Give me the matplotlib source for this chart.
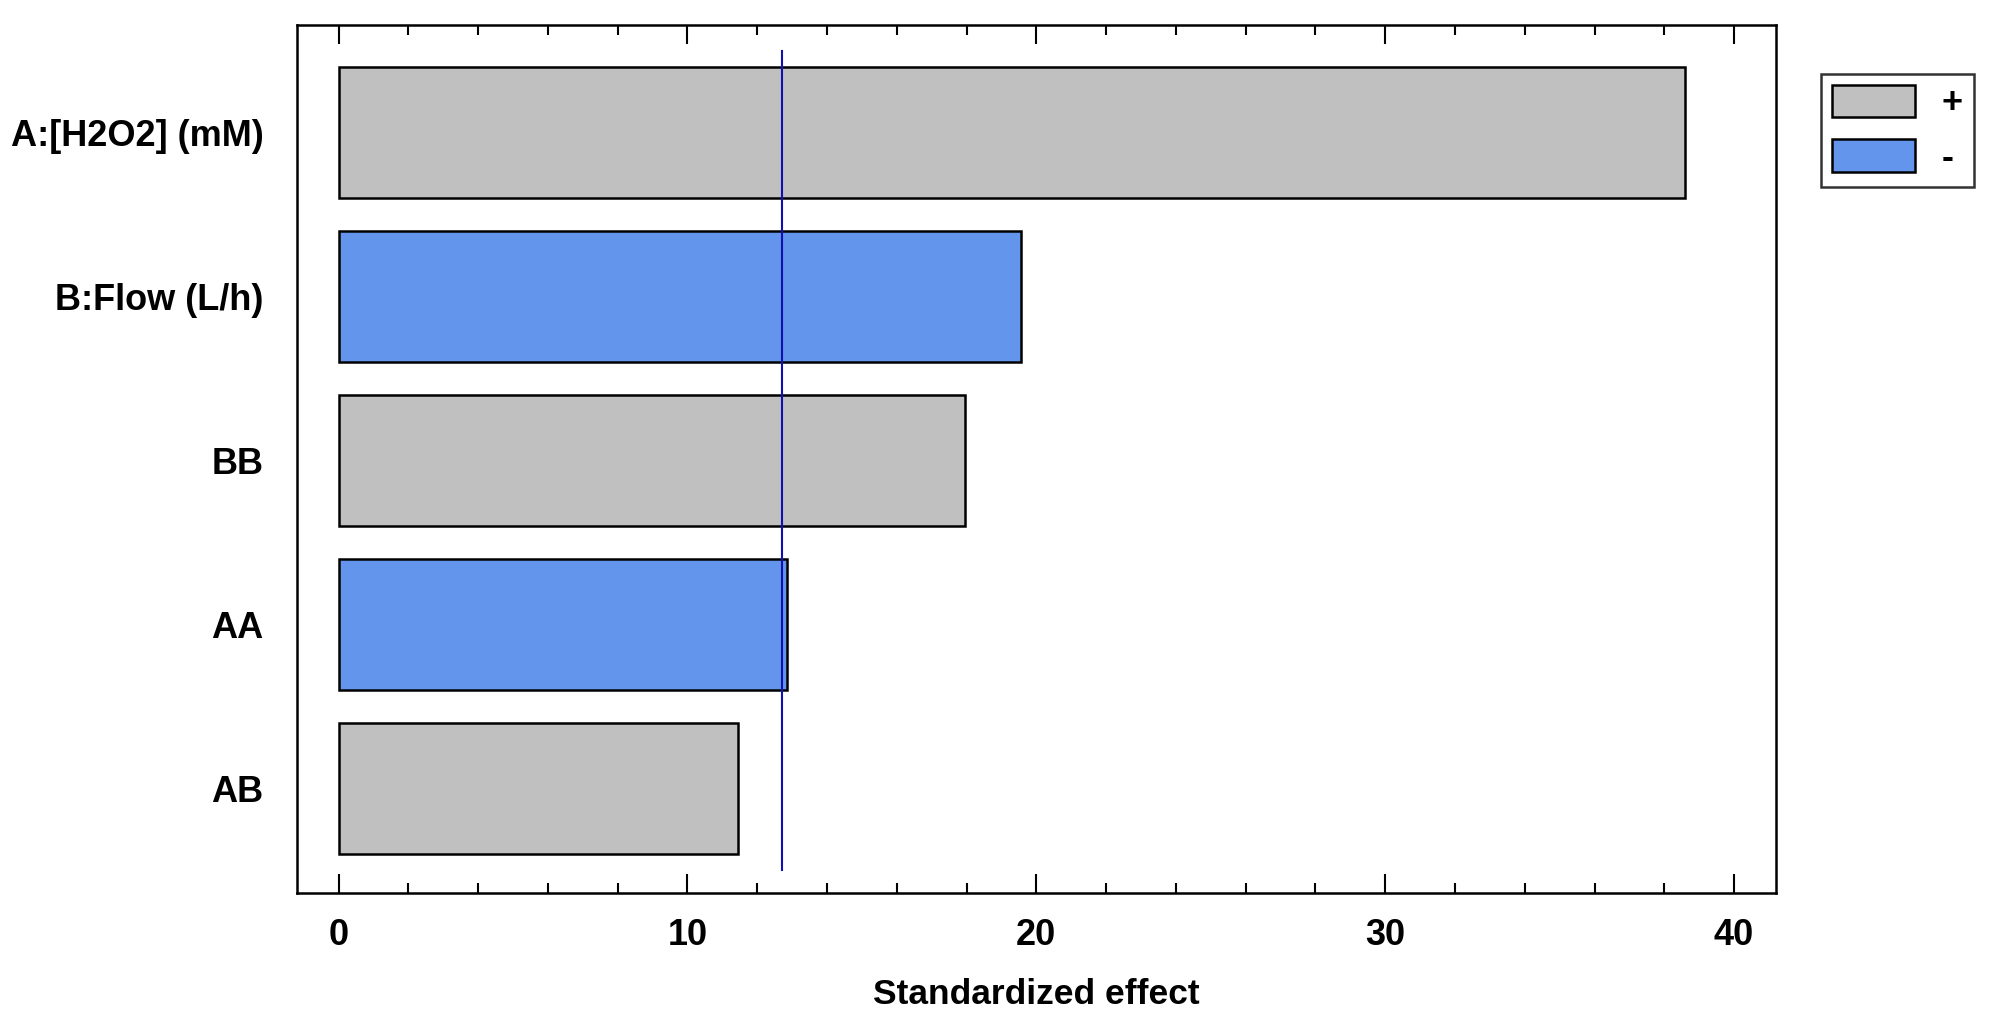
import numpy as np
import matplotlib
matplotlib.use("Agg")
import matplotlib.pyplot as plt
from matplotlib.patches import Patch
from matplotlib.ticker import MultipleLocator

# data
factors = ["A:[H2O2] (mM)", "B:Flow (L/h)", "BB", "AA", "AB"]
effects = [38.6, 19.55, 17.95, 12.85, 11.45]
signs = ["+", "-", "+", "-", "+"]
critical = 12.7

plt.rcParams['font.family'] = ['Liberation Sans', 'DejaVu Sans']
plt.rcParams['font.weight'] = 'bold'

colors = {"+": "#c0c0c0", "-": "#6495ed"}

fig = plt.figure(figsize=(19.91, 10.29), dpi=100)
ax = fig.add_axes([0.149, 0.132, 0.743, 0.844])

ypos = np.arange(len(factors))
ax.barh(ypos, effects, height=0.8, color=[colors[s] for s in signs],
        edgecolor="black", linewidth=1.8, zorder=2)
ax.plot([critical, critical], [-0.5, 4.5], color="#1010b0", linewidth=1.5, zorder=3)

ax.set_xlim(-1.2, 41.2)
ax.set_ylim(4.64, -0.66)
ax.set_yticks(ypos)
ax.set_yticklabels(factors, fontsize=26, fontweight='bold')
ax.tick_params(axis='y', length=0, pad=24)

ax.xaxis.set_major_locator(MultipleLocator(10))
ax.xaxis.set_minor_locator(MultipleLocator(2))
ax.tick_params(axis='x', which='major', direction='in', length=14, width=1.5,
               top=True, labelsize=26, pad=18)
ax.tick_params(axis='x', which='minor', direction='in', length=7, width=1.5, top=True)
for lab in ax.get_xticklabels():
    lab.set_fontweight('bold')
ax.set_xlabel("Standardized effect", fontsize=25.5, fontweight='bold', labelpad=18)

for sp in ax.spines.values():
    sp.set_linewidth(1.8)

handles = [Patch(facecolor=colors["+"], edgecolor="black", linewidth=1.8, label="+"),
           Patch(facecolor=colors["-"], edgecolor="black", linewidth=1.8, label="-")]
leg = fig.legend(handles=handles, loc='upper left',
                 bbox_to_anchor=(1821 / 1991, 1 - 74 / 1029),
                 fontsize=26, frameon=True, fancybox=False, edgecolor='black',
                 handlelength=2.3, handleheight=1.0, handletextpad=0.75,
                 labelspacing=0.5, borderpad=0.3, borderaxespad=0)
leg.get_frame().set_linewidth(1.8)

fig.savefig("out.png", dpi=100)
